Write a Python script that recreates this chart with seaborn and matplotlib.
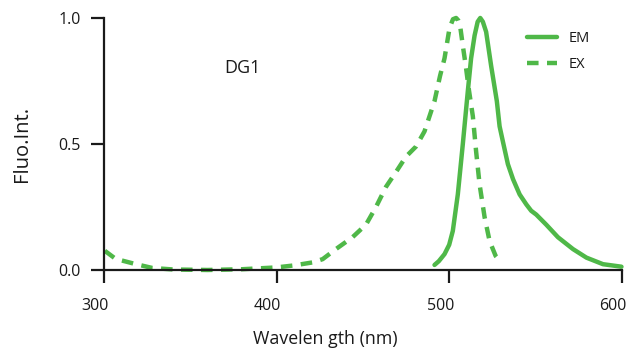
import matplotlib
matplotlib.use("Agg")
import matplotlib.pyplot as plt
import matplotlib.transforms as mtransforms
import seaborn as sns
import pandas as pd

ex_nm = [300.5, 306.8, 318, 328, 340, 360, 380, 399.6, 410, 420.8, 426.7, 434.4, 444, 451.8,
         457.6, 463.4, 469.3, 475, 480.8, 485.7, 488.6, 491.5, 494.7, 497.3, 500.2, 502.2,
         504, 505.3, 506.3, 507.9, 509.8, 511.3, 513.7, 515.6, 517.6, 520.5, 523.4, 526.9, 530.1]
ex_val = [0.076, 0.044, 0.024, 0.008, 0.002, 0.0, 0.003, 0.01, 0.018, 0.03, 0.043, 0.083, 0.13, 0.18,
          0.25, 0.33, 0.39, 0.45, 0.49, 0.55, 0.61, 0.67, 0.77, 0.84, 0.96, 0.995,
          1.0, 0.99, 0.97, 0.89, 0.80, 0.72, 0.61, 0.47, 0.34, 0.21, 0.115, 0.056, 0.03]

em_nm = [491.5, 494, 497.3, 500, 502.1, 505, 507.9, 510.8, 512.7, 514.7, 516.5, 518, 519.5,
         521.4, 524.3, 527.6, 529.2, 531.1, 534, 537, 540.8, 544.7, 547.5, 550.4, 556.2, 563,
         571.7, 579.5, 589.1, 599.8]
em_val = [0.02, 0.035, 0.063, 0.10, 0.155, 0.30, 0.50, 0.71, 0.84, 0.93, 0.985, 1.0, 0.985,
          0.945, 0.81, 0.67, 0.57, 0.51, 0.42, 0.36, 0.30, 0.26, 0.235, 0.22, 0.18, 0.13,
          0.083, 0.049, 0.023, 0.013]

x_ticks = [300, 400, 500, 600]
y_ticks = [0.0, 0.5, 1.0]
y_labels = ["0.0", "0.5", "1.0"]

sns.set_theme(style="ticks")
plt.rcParams['font.family'] = ['Open Sans', 'DejaVu Sans']

green = "#4fb848"
ink = "#1a1a1a"
fig = plt.figure(figsize=(6.3, 3.52), dpi=100)
ax = fig.add_axes([0.165, 0.233, 0.822, 0.716])

em_df = pd.DataFrame({"nm": em_nm, "val": em_val})
ex_df = pd.DataFrame({"nm": ex_nm, "val": ex_val})
sns.lineplot(data=em_df, x="nm", y="val", ax=ax, color=green, lw=3.2, label="EM",
             clip_on=False)
sns.lineplot(data=ex_df, x="nm", y="val", ax=ax, color=green, lw=3.2, label="EX",
             clip_on=False, dashes=False, linestyle=(0, (2.6, 1.9)))

ax.set_xlim(300, 600)
ax.set_ylim(0, 1.0)
ax.set_xticks(x_ticks)
ax.set_yticks(y_ticks)
ax.set_yticklabels(y_labels)
for s in ["top", "right"]:
    ax.spines[s].set_visible(False)
for s in ["left", "bottom"]:
    ax.spines[s].set_linewidth(1.6)
    ax.spines[s].set_color(ink)
ax.tick_params(axis="x", length=9.5, width=1.6, pad=11, labelsize=11.5, colors=ink)
ax.tick_params(axis="y", length=9.5, width=1.6, pad=7, labelsize=11.5, colors=ink)
shift = mtransforms.ScaledTranslation(-9 / 100, 0, fig.dpi_scale_trans)
for lab in ax.get_xticklabels():
    lab.set_transform(lab.get_transform() + shift)
ax.set_xlabel("Wavelen gth (nm)", fontsize=12.8, labelpad=11, color=ink)
ax.xaxis.label.set_x(0.427)
ax.set_ylabel("Fluo.Int.", fontsize=14.5, labelpad=19, color=ink)
ax.text(380, 0.80, "DG1", fontsize=13, ha="center", va="center", color=ink)

leg = ax.legend(loc="upper right", bbox_to_anchor=(0.963, 1.0), frameon=False,
                fontsize=10.5, handlelength=2.0, handletextpad=0.8, labelspacing=0.75)
for t in leg.get_texts():
    t.set_color(ink)
sns.despine(ax=ax)
fig.savefig("out.png", dpi=100)
